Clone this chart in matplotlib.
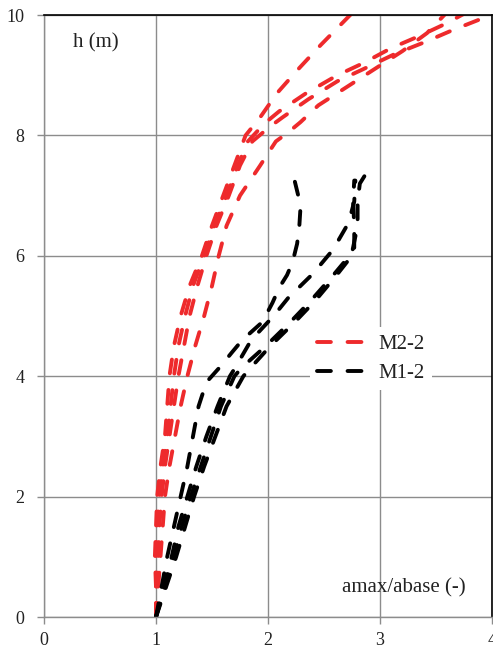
import matplotlib
matplotlib.use("Agg")
import matplotlib.pyplot as plt

# ---------------------------------------------------------------------------
# Data: amplification profiles amax/abase over height h (m)
# ---------------------------------------------------------------------------
# M2-2 (red), four records
m22_a_h = [0, 0.5, 1, 1.5, 2, 2.5, 3, 3.5, 4, 4.5, 5, 5.5, 6, 6.5, 7, 7.5, 8, 8.3, 8.7, 9.1, 9.5, 10.05]
m22_a_x = [1.0, 1.0, 0.99, 1.0, 1.01, 1.04, 1.08, 1.1, 1.12, 1.16, 1.22, 1.3, 1.41, 1.5, 1.6, 1.7, 1.8, 1.93, 2.08, 2.27, 2.47, 2.76]

m22_b_h = [0, 0.5, 1, 1.5, 2, 2.5, 3, 3.5, 4, 4.5, 5, 5.5, 6, 6.5, 7, 7.5, 7.9, 8.15, 8.3, 8.6, 8.9, 9.1, 9.35, 9.55, 9.75, 9.97]
m22_b_x = [1.0, 1.01, 1.02, 1.03, 1.05, 1.08, 1.12, 1.16, 1.2, 1.25, 1.3, 1.37, 1.45, 1.54, 1.65, 1.75, 1.86, 2.02, 2.13, 2.36, 2.62, 2.85, 3.13, 3.4, 3.65, 3.95]

m22_c_h = [0, 0.5, 1, 1.5, 2, 2.5, 3, 3.5, 4, 4.5, 5, 5.5, 6, 6.5, 7, 7.5, 7.9, 8.2, 8.4, 8.7, 9.0, 9.2, 9.45, 9.65, 9.85, 10.05]
m22_c_x = [1.0, 1.0, 1.0, 1.01, 1.03, 1.06, 1.1, 1.13, 1.16, 1.2, 1.26, 1.33, 1.43, 1.52, 1.63, 1.73, 1.82, 1.97, 2.1, 2.34, 2.62, 2.85, 3.1, 3.35, 3.58, 3.78]

m22_d_h = [0, 0.5, 1, 1.5, 2, 2.5, 3, 3.5, 4, 4.5, 5, 5.5, 6, 6.5, 7, 7.5, 7.9, 8.05, 8.22, 8.5, 8.8, 9.1, 9.4, 9.7, 10.05]
m22_d_x = [1.0, 1.02, 1.04, 1.06, 1.08, 1.12, 1.17, 1.22, 1.28, 1.35, 1.43, 1.5, 1.56, 1.63, 1.75, 1.93, 2.07, 2.18, 2.29, 2.45, 2.7, 2.95, 3.2, 3.42, 3.6]

# M1-2 (black), four records
m12_e_h = [0, 0.5, 1, 1.5, 2, 2.5, 3, 3.5, 3.9, 4.15, 4.4, 4.6, 4.9, 5.22, 5.47, 5.68, 5.9, 6.2, 6.5, 6.8, 7.0, 7.23]
m12_e_x = [1.0, 1.05, 1.1, 1.16, 1.22, 1.28, 1.33, 1.38, 1.45, 1.57, 1.68, 1.77, 1.95, 2.04, 2.1, 2.17, 2.22, 2.26, 2.28, 2.29, 2.27, 2.24]

m12_g_h = [0, 0.5, 1, 1.5, 2, 2.5, 3, 3.5, 4, 4.15, 4.6, 5.0, 5.3, 5.7, 6.1, 6.55, 6.9, 7.25]
m12_g_x = [1.0, 1.07, 1.14, 1.2, 1.28, 1.36, 1.45, 1.55, 1.66, 1.71, 1.85, 2.05, 2.18, 2.4, 2.58, 2.72, 2.77, 2.78]

m12_f_h = [0, 0.5, 1, 1.5, 2, 2.5, 3, 3.5, 4, 4.15, 4.5, 4.9, 5.25, 5.65, 6.05, 6.5, 6.9, 7.2, 7.5]
m12_f_x = [1.0, 1.08, 1.16, 1.23, 1.31, 1.4, 1.49, 1.58, 1.7, 1.77, 1.98, 2.2, 2.38, 2.57, 2.75, 2.8, 2.8, 2.82, 2.92]

m12_h_h = [0, 0.5, 1, 1.5, 2, 2.5, 3, 3.5, 4, 4.15, 4.5, 4.9, 5.25, 5.65, 6.05, 6.5, 6.9, 7.25]
m12_h_x = [1.0, 1.09, 1.18, 1.26, 1.34, 1.43, 1.53, 1.63, 1.78, 1.85, 2.02, 2.24, 2.42, 2.6, 2.77, 2.77, 2.76, 2.77]

x_ticks = [0, 1, 2, 3, 4]
y_ticks = [0, 2, 4, 6, 8, 10]

RED = "#ee2a2c"
BLACK = "#000000"
GRID = "#8c8c8c"

plt.rcParams["font.family"] = ["Liberation Serif", "DejaVu Serif"]
plt.rcParams["lines.scale_dashes"] = False

fig = plt.figure(figsize=(4.93, 6.5), dpi=100)
ax = fig.add_axes([44 / 493, 33 / 650, 448 / 493, 602 / 650])

style = dict(lw=2.8, dashes=(10, 12), dash_capstyle="round", solid_capstyle="round")

red_sets = [(m22_a_x, m22_a_h), (m22_b_x, m22_b_h), (m22_c_x, m22_c_h), (m22_d_x, m22_d_h)]
black_sets = [(m12_e_x, m12_e_h), (m12_g_x, m12_g_h), (m12_f_x, m12_f_h), (m12_h_x, m12_h_h)]

for i, (xs, hs) in enumerate(red_sets):
    ax.plot(xs, hs, color=RED, label="M2-2" if i == 0 else "_nolegend_", **style)
for i, (xs, hs) in enumerate(black_sets):
    ax.plot(xs, hs, color=BLACK, label="M1-2" if i == 0 else "_nolegend_", **style)

ax.set_xlim(0, 4)
ax.set_ylim(0, 10)
ax.set_xticks(x_ticks)
ax.set_yticks(y_ticks)
ax.grid(True, color=GRID, lw=1.0)
ax.set_axisbelow(True)
ax.tick_params(axis="both", direction="out", length=5, width=1.0, color=GRID,
               labelsize=13, labelcolor="#222222", pad=9)
ax.tick_params(axis="x", pad=6)

for side in ("left", "bottom"):
    ax.spines[side].set_color(GRID)
    ax.spines[side].set_linewidth(1.0)
for side in ("top", "right"):
    ax.spines[side].set_color("black")
    ax.spines[side].set_linewidth(1.2)

ax.text(73 / 493, 1 - 43 / 650, "h (m)", transform=fig.transFigure,
        fontsize=15, color="#222222", ha="left", va="center")
ax.text(342 / 493, 1 - 588 / 650, "amax/abase (-)", transform=fig.transFigure,
        fontsize=15, color="#222222", ha="left", va="center")

leg = ax.legend(loc="upper left", bbox_to_anchor=(310 / 493, 1 - 327 / 650),
                bbox_transform=fig.transFigure, fontsize=15, frameon=True,
                fancybox=False, framealpha=1, facecolor="white", edgecolor="none",
                handlelength=2.4, handletextpad=0.55, labelspacing=0.45,
                borderpad=0.35, borderaxespad=0)
for t in leg.get_texts():
    t.set_color("#222222")

fig.savefig("out.png", dpi=100)
